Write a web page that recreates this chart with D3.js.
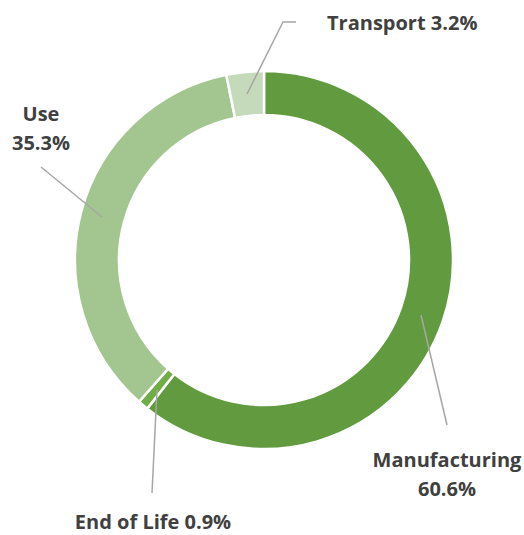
<!DOCTYPE html>
<html>
<head>
<meta charset="utf-8">
<script src="https://cdn.jsdelivr.net/npm/d3@7"></script>
<style>
html,body{margin:0;padding:0;background:#fff;}
svg text{font-family:"Open Sans",sans-serif;font-weight:bold;fill:#404040;}
</style>
</head>
<body>
<svg id="chart" width="524" height="535"></svg>
<script>
const categories = ["Manufacturing", "End of Life", "Use", "Transport"];
const values = [60.6, 0.9, 35.3, 3.2];
const colors = ["#629B3F", "#70AD47", "#A3C590", "#C5DABA"];
const labelLines = [["Manufacturing", "60.6%"], ["End of Life 0.9%"], ["Use", "35.3%"], ["Transport 3.2%"]];

const svg = d3.select("#chart");
const cx = 264, cy = 260, rOuter = 189, rInner = 145;
const g = svg.append("g").attr("transform", `translate(${cx},${cy})`);

const data = categories.map((c, i) => ({cat: c, value: values[i], color: colors[i], lines: labelLines[i]}));
const pie = d3.pie().value(d => d.value).sort(null);
const arc = d3.arc().innerRadius(rInner).outerRadius(rOuter);
const arcs = pie(data);

g.selectAll("path.slice").data(arcs).join("path")
  .attr("class", "slice")
  .attr("d", arc)
  .attr("fill", d => d.data.color)
  .attr("stroke", "#fff")
  .attr("stroke-width", 2.5);

const leaders = [
  {start: [421 - cx, 315 - cy], pts: [[447 - cx, 425 - cy]], tx: 447 - cx, ty: 467 - cy, anchor: "middle"},
  {start: [157 - cx, 390 - cy], pts: [[152 - cx, 493 - cy]], tx: 153 - cx, ty: 529 - cy, anchor: "middle"},
  {start: [102 - cx, 217 - cy], pts: [[41 - cx, 167 - cy]], tx: 41 - cx, ty: 121 - cy, anchor: "middle"},
  {start: [247 - cx, 94 - cy], pts: [[283 - cx, 22 - cy], [296 - cx, 22 - cy]], tx: 327 - cx, ty: 30 - cy, anchor: "start"}
];

arcs.forEach((a, i) => {
  const L = leaders[i];
  const pts = [L.start].concat(L.pts);
  g.append("path")
    .attr("d", d3.line()(pts))
    .attr("fill", "none")
    .attr("stroke", "#A6A6A6")
    .attr("stroke-width", 1.5);
  const t = g.append("text")
    .attr("x", L.tx).attr("y", L.ty)
    .attr("text-anchor", L.anchor)
    .attr("font-size", "20px");
  a.data.lines.forEach((ln, j) => {
    t.append("tspan").attr("x", L.tx).attr("dy", j === 0 ? 0 : 29).text(ln);
  });
});
</script>
</body>
</html>
